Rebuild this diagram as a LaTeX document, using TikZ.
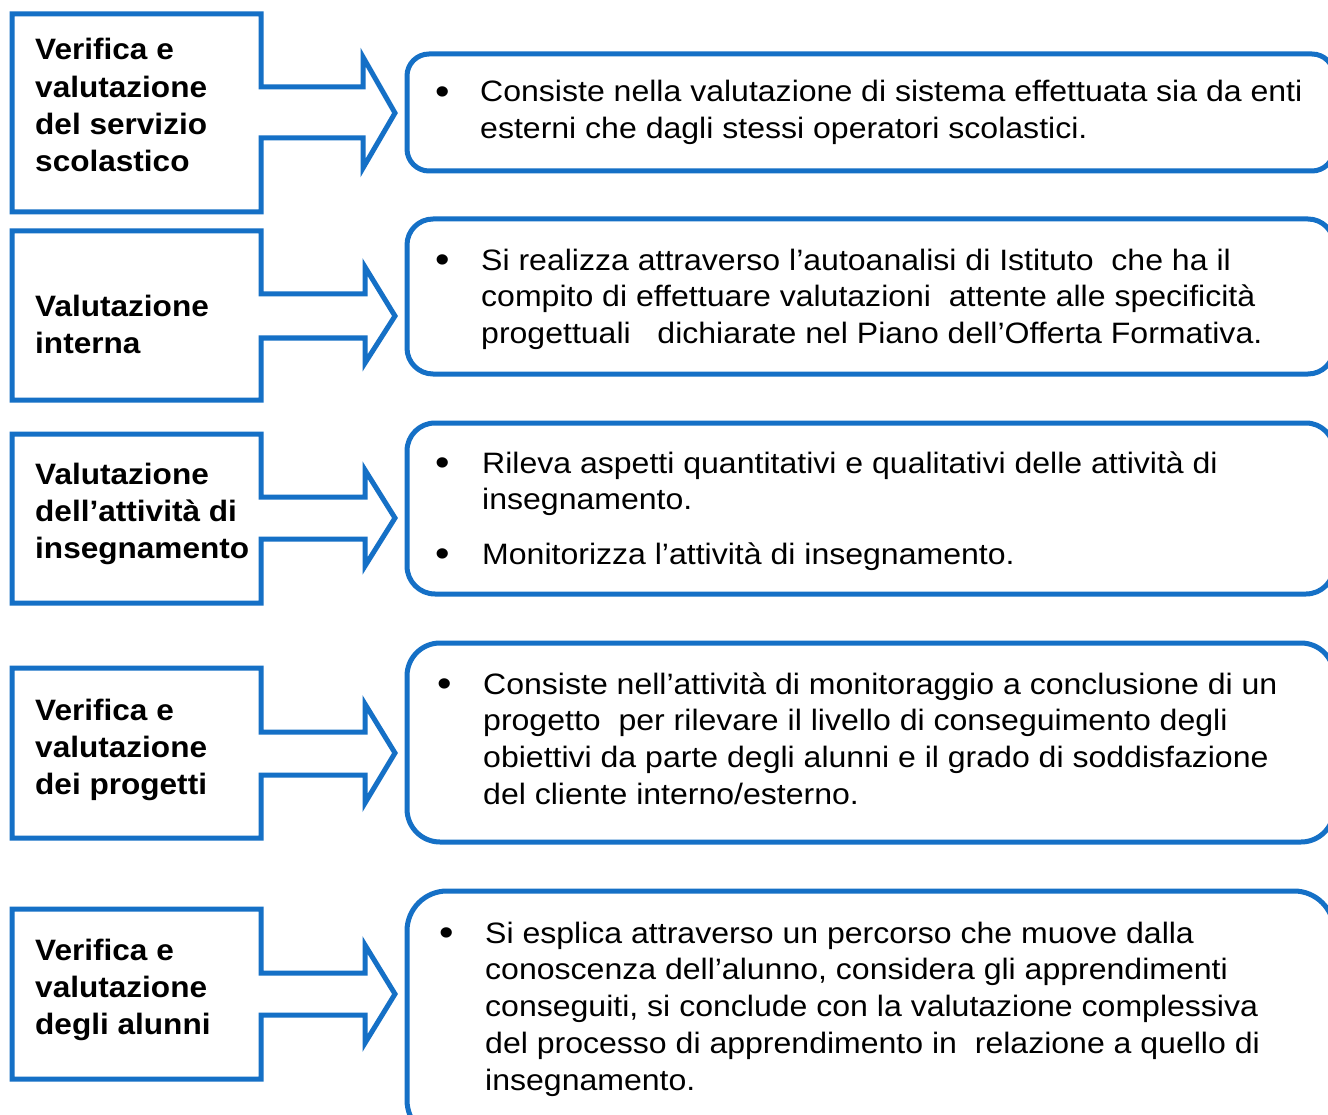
\documentclass[tikz,border=0pt]{standalone}
\usepackage{fontspec}
\setmainfont[FakeStretch=1.07]{Liberation Sans}
\newfontfamily\bodyfont[FakeStretch=1.086]{Liberation Sans}
\definecolor{frameblue}{RGB}{21,112,198}
\tikzset{
  callout/.style={draw=frameblue,line width=5pt,line join=miter,fill=white},
  infobox/.style={draw=frameblue,line width=5pt,fill=white},
  labeltext/.style={anchor=base west,inner sep=0pt,align=left,font=\fontsize{29.5}{37.2}\selectfont\bfseries},
  bodytext/.style={anchor=base west,inner sep=0pt,align=left,font=\bodyfont\fontsize{29.5}{36.8}\selectfont},
  bulletmark/.style={anchor=base,inner sep=0pt,yshift=-2.5pt,font=\bodyfont\fontsize{38}{40}\selectfont}
}
% #1 top, #2 bottom, #3 shaft top, #4 shaft bottom, #5 head top, #6 head bottom, #7 tip y, #8 head base x
\newcommand\calloutshape[8]{%
  \draw[callout] (12,#1) -- (261,#1) -- (261,#3) -- (#8,#3) -- (#8,#5) -- (395,#7)
    -- (#8,#6) -- (#8,#4) -- (261,#4) -- (261,#2) -- (12,#2) -- cycle;}
\begin{document}
\begin{tikzpicture}[x=1pt,y=-1pt]
\useasboundingbox (0,0) rectangle (1328,1115);
\clip (0,0) rectangle (1328,1115);
\fill[white] (0,0) rectangle (1328,1115);

% left callouts
\calloutshape{14}{212}{87}{138}{57}{168}{113}{363}
\calloutshape{231}{400}{294}{338}{267}{363}{316}{365}
\calloutshape{434}{603}{497}{539}{470}{566}{518}{365}
\calloutshape{668}{838}{732}{775}{704}{803}{753}{365}
\calloutshape{909}{1079}{973}{1015}{945}{1043}{994}{365}

% (node anchors sit on the baseline of the LAST line)
\node[labeltext] (lab1) at (35,171.6) {Verifica e\\valutazione\\del servizio\\scolastico};
\node[labeltext] (lab2) at (35,353.2) {Valutazione\\interna};
\node[labeltext] (lab3) at (35,558.4) {Valutazione\\dell’attività di\\insegnamento};
\node[labeltext] (lab4) at (35,794.4) {Verifica e\\valutazione\\dei progetti};
\node[labeltext] (lab5) at (35,1034.4) {Verifica e\\valutazione\\degli alunni};

% right rounded boxes
\draw[infobox,rounded corners=22pt] (407,54) rectangle (1334,171);
\draw[infobox,rounded corners=26pt] (407,219) rectangle (1334,374);
\draw[infobox,rounded corners=28pt] (407,423) rectangle (1334,594);
\draw[infobox,rounded corners=33pt] (407,643) rectangle (1334,842);
\draw[infobox,rounded corners=40pt] (407,891) rectangle (1334,1140);

% box 1
\node[bulletmark] (b1) at (443,102) {•};
\node[bodytext] (t1) at (480,138.8) {Consiste nella valutazione di sistema effettuata sia da enti\\esterni che dagli stessi operatori scolastici.};
% box 2
\node[bulletmark] (b2) at (443,270) {•};
\node[bodytext] (t2) at (481,343.6) {Si realizza attraverso l’autoanalisi di Istituto\ \ che ha il\\compito di effettuare valutazioni\ \ attente alle specificità\\progettuali\ \ \ dichiarate nel Piano dell’Offerta Formativa.};
% box 3
\node[bulletmark] (b3) at (443,473) {•};
\node[bodytext] (t3) at (482,509.8) {Rileva aspetti quantitativi e qualitativi delle attività di\\insegnamento.};
\node[bulletmark] (b3b) at (443,564) {•};
\node[bodytext] (t3b) at (482,564) {Monitorizza l’attività di insegnamento.};
% box 4
\node[bulletmark] (b4) at (445,694) {•};
\node[bodytext] (t4) at (483,804.4) {Consiste nell’attività di monitoraggio a conclusione di un\\progetto\ \ per rilevare il livello di conseguimento degli\\obiettivi da parte degli alunni e il grado di soddisfazione\\del cliente interno/esterno.};
% box 5
\node[bulletmark] (b5) at (447,943) {•};
\node[bodytext] (t5) at (485,1090.2) {Si esplica attraverso un percorso che muove dalla\\conoscenza dell’alunno, considera gli apprendimenti\\conseguiti, si conclude con la valutazione complessiva\\del processo di apprendimento in\ \ relazione a quello di\\insegnamento.};
\end{tikzpicture}
\end{document}
